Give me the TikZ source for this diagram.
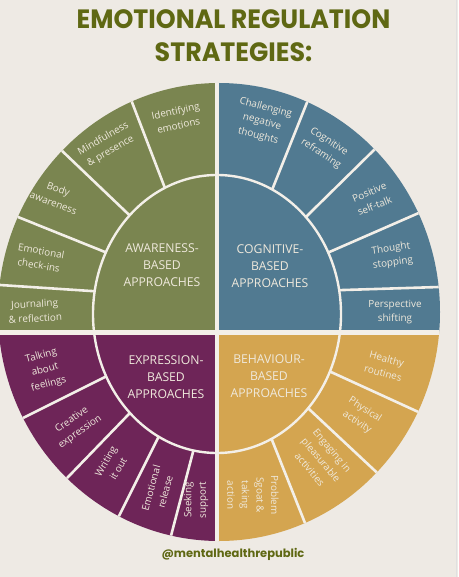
\documentclass[tikz,border=0pt]{standalone}
\usepackage{fontspec}
\usetikzlibrary{calc}
\newfontfamily\titlefont{Poppins}
\newfontfamily\segfont{Open Sans}
\definecolor{bgc}{HTML}{EEEAE4}
\definecolor{divc}{HTML}{F3EFE8}
\definecolor{grn}{HTML}{7A8550}
\definecolor{blu}{HTML}{517A91}
\definecolor{pur}{HTML}{6E2558}
\definecolor{org}{HTML}{D4A550}
\definecolor{ttl}{HTML}{5F6813}
\definecolor{txc}{HTML}{EFE9DC}
\tikzset{
  seg/.style={font=\segfont\fontsize{9.9}{14.6}\selectfont, text=txc, align=center, inner sep=0pt},
  core/.style={font=\segfont\fontsize{12.2}{16.8}\selectfont, text=txc, align=center, inner sep=0pt},
  ttlstyle/.style={font=\titlefont\bfseries\fontsize{26.5}{30}\selectfont, text=ttl, anchor=base, inner sep=0pt},
  divline/.style={draw=divc, line width=2.6pt},
  gapline/.style={draw=divc, line width=4.2pt},
  ringline/.style={draw=divc, line width=2.4pt},
}
\begin{document}
\begin{tikzpicture}[x=1pt,y=-1pt]
\fill[bgc] (0,0) rectangle (458,577);
\useasboundingbox (0,0) rectangle (458,577);
\draw[draw=black!12, line width=0.8pt] (456,0) -- (456,577);
% outer ring
\begin{scope}
\clip (219,312) ellipse [x radius=221, y radius=229];
\fill[grn] (-10,-10) rectangle (217,332);
\fill[blu] (217,-10) rectangle (470,332);
\fill[pur] (-10,332) rectangle (217,590);
\fill[org] (217,332) rectangle (470,590);
\foreach \ix/\iy/\ox/\oy [count=\k] in {
  163/183/130/97, 124/210/58/147, 100/250/13/215, 91/291/0/285,
  274/185/308/100, 312/211/376/148, 334/250/421/212, 344/290/439/287,
  105/377/25/417, 128/415/70/475, 158/438/121/512, 193/452/172/532,
  331/372/414/410, 310/410/372/468, 272/440/303/518}{
  \coordinate (i\k) at (\ix,\iy);
  \coordinate (o\k) at (\ox,\oy);
  \draw[divline] ($(i\k)!-0.25!(o\k)$) -- ($(i\k)!1.3!(o\k)$);
}
% inner quadrants
\begin{scope}
\clip (217,314) ellipse [x radius=124, y radius=139];
\fill[grn] (-10,-10) rectangle (217,332);
\fill[blu] (217,-10) rectangle (470,332);
\fill[pur] (-10,332) rectangle (217,590);
\fill[org] (217,332) rectangle (470,590);
\end{scope}
\draw[ringline] (217,314) ellipse [x radius=124, y radius=139];
\draw[gapline] (217,-10) -- (217,590);
\draw[gapline] (-10,332.5) -- (470,332.5);
\end{scope}
% title
\node[ttlstyle] (t1) at (233.5,29) {\scalebox{0.955}[1]{EMOTIONAL REGULATION}};
\node[ttlstyle] (t2) at (233.5,62) {\scalebox{0.955}[1]{STRATEGIES:}};
\node[font=\titlefont\bfseries\fontsize{11.5}{14}\selectfont, text=ttl, anchor=base, inner sep=0pt] (ft) at (233,557) {@mentalhealthrepublic};
% core labels
\node[core] (ca) at (162,265) {AWARENESS-\\BASED\\APPROACHES};
\node[core] (cc) at (270,266) {COGNITIVE-\\BASED\\APPROACHES};
\node[core] (ce) at (166,377) {EXPRESSION-\\BASED\\APPROACHES};
\node[core] (cb) at (269,376) {BEHAVIOUR-\\BASED\\APPROACHES};
% green segments
\node[seg, rotate=12] (g1) at (177,118) {Identifying\\emotions};
\node[seg, rotate=30] (g2) at (107,145) {Mindfulness\\\& presence};
\node[seg, rotate=-20] (g3) at (56,196) {Body\\awareness};
\node[seg, rotate=-10] (g4) at (40,258) {Emotional\\check-ins};
\node[seg, rotate=3] (g5) at (35,311) {Journaling\\\& reflection};
% blue segments
\node[seg, rotate=-15] (b1) at (262,122) {Challenging\\negative\\thoughts};
\node[seg, rotate=-33] (b2) at (325,148) {Cognitive\\reframing};
\node[seg, rotate=22] (b3) at (372,199) {Positive\\self-talk};
\node[seg, rotate=8] (b4) at (392,256) {Thought\\stopping};
\node[seg] (b5) at (395,312) {Perspective\\shifting};
% purple segments
\node[seg, rotate=15] (p1) at (45,370) {Talking\\about\\feelings};
\node[seg, rotate=35] (p2) at (76,426) {Creative\\expression};
\node[seg, rotate=60] (p3) at (112,465) {Writing\\it out};
\node[seg, rotate=75] (p4) at (158,490) {Emotional\\release};
\node[seg, rotate=90] (p5) at (196,500) {Seeking\\support};
% orange segments
\node[seg, rotate=-15] (r1) at (385,366) {Healthy\\routines};
\node[seg, rotate=-33] (r2) at (361,416) {Physical\\activity};
\node[seg, rotate=-50] (r3) at (321,460) {Engaging in\\pleasurable\\activities};
\node[seg, rotate=-90] (r4) at (253,495) {Problem\\Sgoat \&\\taking\\action};
\end{tikzpicture}
\end{document}
